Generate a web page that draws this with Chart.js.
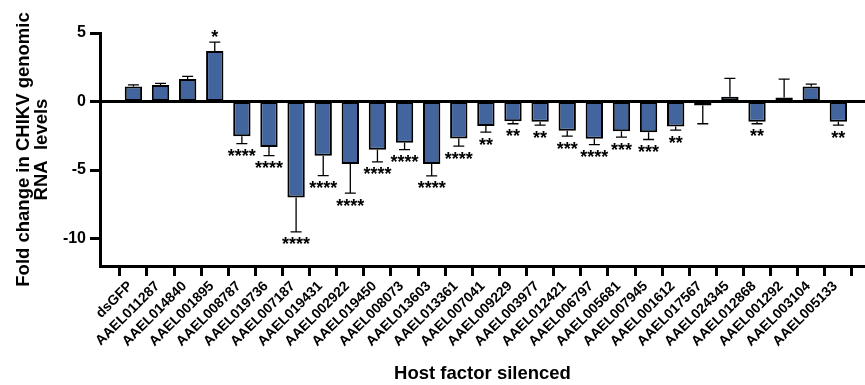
<!DOCTYPE html>
<html>
<head>
<meta charset="utf-8">
<script src="https://cdn.jsdelivr.net/npm/chart.js@4.4.1/dist/chart.umd.min.js"></script>
<style>
  html, body { margin: 0; padding: 0; background: #fff; }
  #wrap { width: 865px; height: 385px; position: relative; }
</style>
</head>
<body>
<div id="wrap"><canvas id="c"></canvas></div>
<script>
const categories = ['dsGFP','AAEL011287','AAEL014840','AAEL001895','AAEL008787','AAEL019736','AAEL007187','AAEL019431','AAEL002922','AAEL019450','AAEL008073','AAEL013603','AAEL013361','AAEL007041','AAEL009229','AAEL003977','AAEL012421','AAEL006797','AAEL005681','AAEL007945','AAEL001612','AAEL017567','AAEL024345','AAEL012868','AAEL001292','AAEL003104','AAEL005133'];
const foldChange = [1.1, 1.2, 1.64, 3.68, -2.53, -3.31, -7.01, -3.95, -4.56, -3.51, -3.01, -4.56, -2.7, -1.79, -1.43, -1.47, -2.13, -2.72, -2.16, -2.24, -1.82, -0.29, 0.34, -1.47, 0.29, 1.1, -1.47];
const errorSD = [0.12, 0.13, 0.2, 0.65, 0.54, 0.64, 2.5, 1.45, 2.13, 0.9, 0.5, 0.86, 0.56, 0.44, 0.19, 0.25, 0.4, 0.42, 0.44, 0.53, 0.27, 1.33, 1.35, 0.15, 1.35, 0.17, 0.25];
const significance = ['', '', '', '*', '****', '****', '****', '****', '****', '****', '****', '****', '****', '**', '**', '**', '***', '****', '***', '***', '**', '', '', '**', '', '', '**'];
const yTicks = [5, 0, -5, -10];

const FONT = "'Liberation Sans', Arial, sans-serif";

const errorPlugin = {
  id: 'errorBars',
  afterDatasetsDraw(chart) {
    const ctx = chart.ctx;
    const xs = chart.scales.x, ys = chart.scales.y;
    const area = chart.chartArea;
    ctx.save();
    const y0 = ys.getPixelForValue(0);
    ctx.strokeStyle = '#000';
    ctx.lineWidth = 3;
    ctx.beginPath();
    ctx.moveTo(area.left, y0);
    ctx.lineTo(area.right, y0);
    ctx.stroke();
    ctx.lineWidth = 1.3;
    ctx.font = 'bold 18px ' + FONT;
    ctx.textAlign = 'center';
    ctx.textBaseline = 'alphabetic';
    foldChange.forEach((v, i) => {
      const x = xs.getPixelForValue(i);
      const sign = v >= 0 ? 1 : -1;
      const yb = ys.getPixelForValue(v);
      const ye = ys.getPixelForValue(v + sign * errorSD[i]);
      ctx.beginPath();
      ctx.moveTo(x, yb);
      ctx.lineTo(x, ye);
      ctx.moveTo(x - 5.5, ye);
      ctx.lineTo(x + 5.5, ye);
      ctx.stroke();
      const s = significance[i];
      if (s) {
        const m = ctx.measureText(s);
        const centerOff = (m.actualBoundingBoxDescent - m.actualBoundingBoxAscent) / 2;
        const cy = ye - sign * 9;
        ctx.fillStyle = '#000';
        ctx.fillText(s, x, cy - centerOff);
      }
    });
    ctx.restore();
  }
};

new Chart(document.getElementById('c'), {
  type: 'bar',
  data: {
    datasets: [{
      data: foldChange.map((v, i) => ({ x: i, y: v })),
      backgroundColor: '#41659C',
      borderColor: '#000',
      borderWidth: 2,
      borderSkipped: false,
      barPercentage: 0.64,
      categoryPercentage: 1
    }]
  },
  options: {
    responsive: true,
    maintainAspectRatio: false,
    animation: false,
    layout: { padding: { top: 33, right: 0, left: 0, bottom: 0 } },
    plugins: { legend: { display: false }, tooltip: { enabled: false } },
    scales: {
      x: {
        type: 'linear',
        min: -0.71,
        max: 26.46,
        afterBuildTicks: (s) => { s.ticks = categories.map((c, i) => ({ value: i })); },
        afterFit: (s) => { s.height = 119; },
        border: { display: true, color: '#000', width: 3 },
        grid: { display: true, drawOnChartArea: false, drawTicks: true, tickLength: 10, tickWidth: 3, tickColor: '#000' },
        ticks: {
          autoSkip: false,
          minRotation: 45,
          maxRotation: 45,
          padding: 2,
          labelOffset: -3,
          color: '#000',
          font: { family: FONT, size: 14, weight: 'bold' },
          callback: (v) => categories[v]
        },
        title: {
          display: true,
          text: 'Host factor silenced',
          color: '#000',
          font: { family: FONT, size: 18.5, weight: 'bold' },
          padding: { top: 0, bottom: 0 }
        }
      },
      y: {
        min: -12,
        max: 5,
        afterBuildTicks: (s) => { s.ticks = yTicks.map(v => ({ value: v })); },
        afterFit: (s) => { s.width = 100; },
        border: { display: true, color: '#000', width: 3 },
        grid: { display: true, drawOnChartArea: false, drawTicks: true, tickLength: 10, tickWidth: 3, tickColor: '#000' },
        ticks: {
          padding: 4,
          color: '#000',
          font: { family: FONT, size: 16, weight: 'bold' }
        },
        title: {
          display: true,
          text: ['Fold change in CHIKV genomic', 'RNA  levels'],
          color: '#000',
          font: { family: FONT, size: 18.5, weight: 'bold', lineHeight: 0.98 },
          padding: { top: 15, bottom: 0 }
        }
      }
    }
  },
  plugins: [errorPlugin]
});
</script>
</body>
</html>
